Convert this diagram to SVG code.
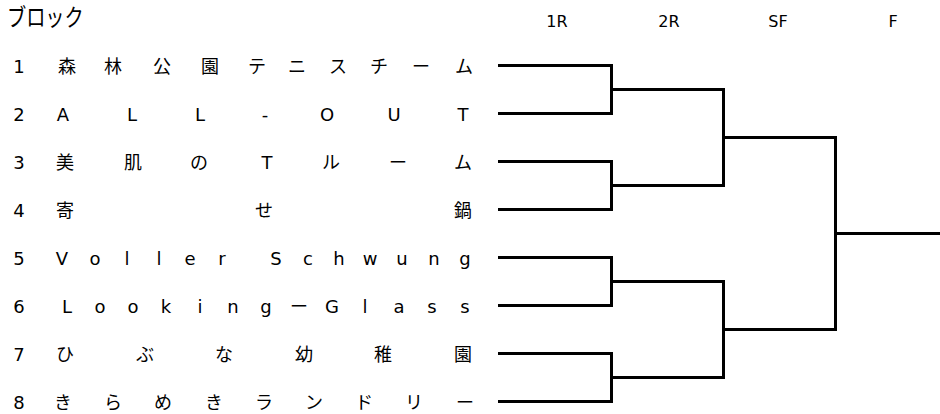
<svg xmlns="http://www.w3.org/2000/svg" width="940" height="414" viewBox="0 0 940 414">
<style>
text{font-family:"DejaVu Sans","Noto Sans CJK JP",sans-serif;fill:#000}
.t{font-size:24px;font-family:"Noto Sans CJK JP",sans-serif}
.h{font-size:16px;text-anchor:middle}
.n{font-size:18px;text-anchor:middle}
.c{fill:none;stroke:#000;stroke-width:3;stroke-linejoin:miter}
</style>
<rect width="940" height="414" fill="#fff"/>
<text id="title" class="t" transform="translate(7 26) scale(0.8 1)">ブロック</text>
<g id="headers">
<text class="h" x="557" y="26.5">1R</text>
<text class="h" x="669" y="26.5">2R</text>
<text class="h" x="778" y="26.5">SF</text>
<text class="h" x="893" y="26.5">F</text>
</g>
<g id="team1"><text class="n" x="19" y="73">1</text><text class="n" x="67 113 162 210 257 297 338 379 421 464" y="73">森林公園テニスチーム</text></g>
<g id="team2"><text class="n" x="19" y="121">2</text><text class="n" x="63 132 200 265 327 394 463" y="121">ALL-OUT</text></g>
<g id="team3"><text class="n" x="19" y="169">3</text><text class="n" x="65 133 199 267 331 398 463" y="169">美肌のTルーム</text></g>
<g id="team4"><text class="n" x="19" y="217">4</text><text class="n" x="65 264 463" y="217">寄せ鍋</text></g>
<g id="team5"><text class="n" x="19" y="265">5</text><text class="n" x="62 95 127 159 190 222 249 276 308 339 370 402 434 465" y="265">Voller Schwung</text></g>
<g id="team6"><text class="n" x="19" y="313">6</text><text class="n" x="67 100 133 166 200 233 266 299 332 365 399 432 465" y="313">LookingーGlass</text></g>
<g id="team7"><text class="n" x="19" y="361">7</text><text class="n" x="65 145 224 304 383 463" y="361">ひぶな幼稚園</text></g>
<g id="team8"><text class="n" x="19" y="409">8</text><text class="n" x="63 113 163 214 264 314 364 414 465" y="409">きらめきランドリー</text></g>
<g id="connectors" class="c">
<path class="c" d="M498 65.5H611.5V113.5H498"/>
<path class="c" d="M498 161.5H611.5V209.5H498"/>
<path class="c" d="M498 257.5H611.5V305.5H498"/>
<path class="c" d="M498 353.5H611.5V401.5H498"/>
<path class="c" d="M611.5 89.5H723.5V185.5H611.5"/>
<path class="c" d="M611.5 281.5H723.5V377.5H611.5"/>
<path class="c" d="M723.5 137.5H835.5V329.5H723.5"/>
<path class="c" d="M835.5 233.5H940"/>
</g>
</svg>
